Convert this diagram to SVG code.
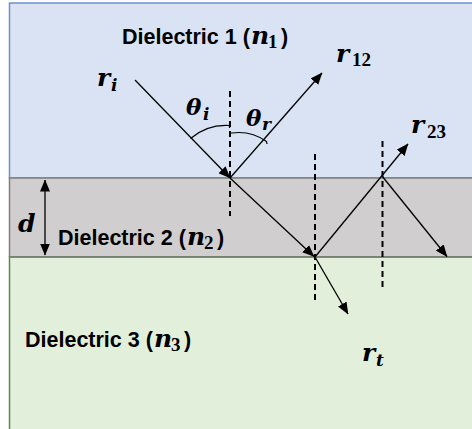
<svg xmlns="http://www.w3.org/2000/svg" width="472" height="429" viewBox="0 0 472 429">
<defs>
<marker id="ah" viewBox="0 0 12 10" refX="11.5" refY="5" markerWidth="12" markerHeight="10" markerUnits="userSpaceOnUse" orient="auto-start-reverse">
<path d="M0,0 L12,5 L0,10 Z" fill="#000"/>
</marker>
<style>
.lbl{font-family:"Liberation Sans",Arial,sans-serif;font-weight:bold;font-size:21.5px;fill:#000}
.m{font-family:"DejaVu Serif",serif;font-weight:bold;font-style:italic;font-size:25px;fill:#000}
.th{font-family:"DejaVu Serif",serif;font-weight:bold;font-style:italic;font-size:23px;fill:#000}
.ms{font-family:"DejaVu Serif",serif;font-weight:bold;font-style:italic;font-size:17px;fill:#000}
.ds{font-family:"Liberation Serif",serif;font-weight:bold;font-style:normal;font-size:19px;fill:#000}
.pl{font-family:"Liberation Sans",Arial,sans-serif;font-weight:bold;font-style:normal;font-size:21.5px;fill:#000}
.ray{stroke:#000;stroke-width:1.3;fill:none}
.arr{marker-end:url(#ah)}
.norm{stroke:#000;stroke-width:2;stroke-dasharray:6,4;fill:none}
.arc{stroke:#000;stroke-width:1.2;fill:none}
</style>
</defs>
<g id="layers">
<rect id="dielectric1" x="9.5" y="3" width="470" height="175" fill="#dae3f3" stroke="#6f8fcf" stroke-width="1.5"/>
<rect id="dielectric2" x="9.5" y="178" width="470" height="79" fill="#d0cece" stroke="#7f7f7f" stroke-width="1.5"/>
<rect id="dielectric3" x="9.5" y="257" width="470" height="185" fill="#e2efda" stroke="#5f8a4a" stroke-width="1.5"/>
<line x1="9.5" y1="257" x2="472" y2="257" stroke="#7f7f7f" stroke-width="1.5"/>
</g>
<g id="normals">
<line class="norm" x1="230" y1="91" x2="230" y2="216"/>
<line class="norm" x1="315" y1="154" x2="315" y2="300"/>
<line class="norm" x1="382.5" y1="141" x2="382.5" y2="287"/>
</g>
<g id="connectors">
<line class="ray arr" x1="135" y1="80" x2="230" y2="178"/>
<line class="ray arr" x1="230" y1="178" x2="322" y2="73"/>
<line class="ray arr" x1="230" y1="178" x2="314" y2="256.5"/>
<line class="ray arr" x1="315" y1="257" x2="408" y2="144"/>
<line class="ray arr" x1="382" y1="176" x2="447" y2="256.5"/>
<line class="ray arr" x1="315" y1="257" x2="348" y2="314"/>
<line class="ray" x1="45" y1="180" x2="45" y2="255" marker-start="url(#ah)" marker-end="url(#ah)"/>
<path class="arc" d="M190.5,138.5 A55,55 0 0 1 229.5,125.5 L229.5,128"/>
<path class="arc" d="M230,133 L232,133 M232,133 A48,48 0 0 1 266.5,141.5 L267,144"/>
</g>
<g id="labels">
<text id="label-d1" class="lbl" x="122" y="44">Dielectric 1 (<tspan class="m" x="251">n</tspan><tspan class="ds" x="268" y="48">1</tspan><tspan class="pl" x="281" y="44">)</tspan></text>
<text id="label-d2" class="lbl" x="58" y="245">Dielectric 2 (<tspan class="m" x="187">n</tspan><tspan class="ds" x="204" y="249">2</tspan><tspan class="pl" x="217" y="245">)</tspan></text>
<text id="label-d3" class="lbl" x="25" y="346.5">Dielectric 3 (<tspan class="m" x="154">n</tspan><tspan class="ds" x="171" y="350.5">3</tspan><tspan class="pl" x="184" y="346.5">)</tspan></text>
<text class="m" x="97" y="86">r<tspan class="ms" x="111" y="91">i</tspan></text>
<text class="m" x="336" y="62">r<tspan class="ds" x="352" y="66">12</tspan></text>
<text class="m" x="411" y="133">r<tspan class="ds" x="427" y="137.5">23</tspan></text>
<text class="m" x="362" y="361">r<tspan class="ms" x="376" y="366">t</tspan></text>
<text class="th" x="186" y="115">θ<tspan class="ms" x="203" y="120">i</tspan></text>
<text class="th" x="246" y="126">θ<tspan class="ms" x="262" y="130">r</tspan></text>
<text class="m" x="18" y="232">d</text>
</g>
</svg>
